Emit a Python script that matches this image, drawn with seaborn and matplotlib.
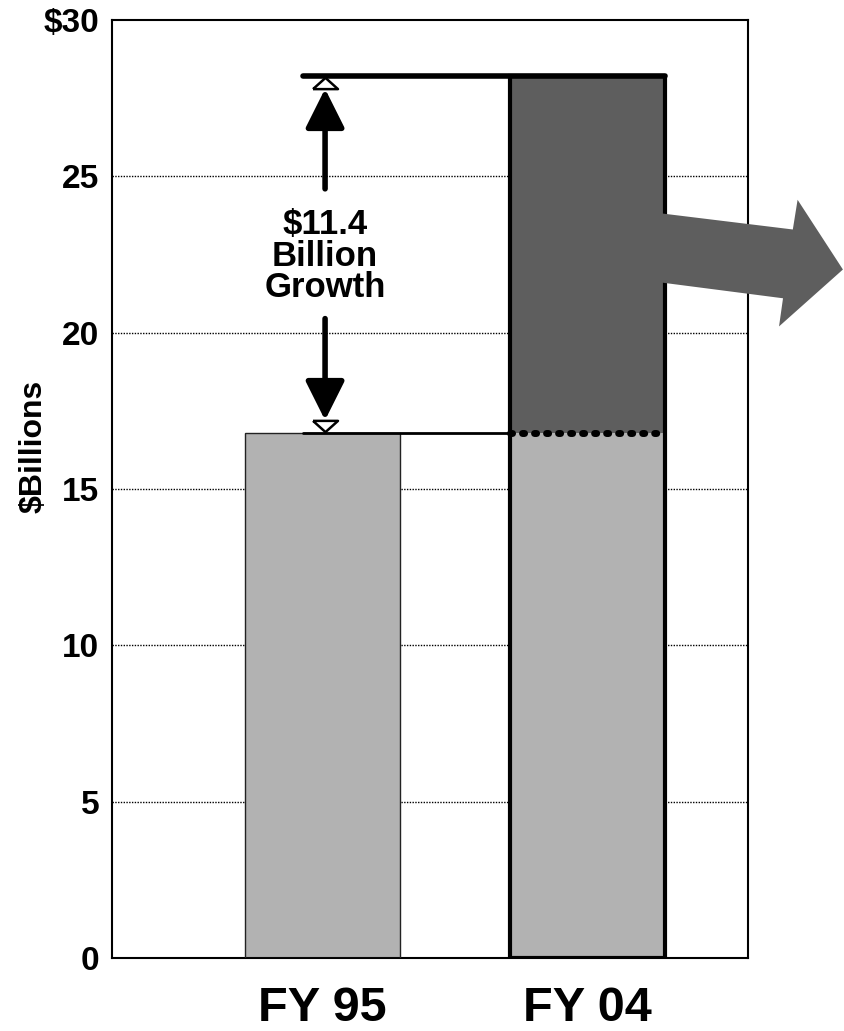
import numpy as np
import pandas as pd
import seaborn as sns
import matplotlib.pyplot as plt
from matplotlib.patches import Polygon, Rectangle

years = ['FY 95', 'FY 04']
base_vals = [16.8, 16.8]
growth_vals = [0.0, 11.4]
totals = [b + g for b, g in zip(base_vals, growth_vals)]
yticks = [0, 5, 10, 15, 20, 25, 30]
ytick_labels = ['0', '5', '10', '15', '20', '25', '$30']
growth_text = '$11.4\nBillion\nGrowth'

light = '#b2b2b2'
dark = '#5e5e5e'
bar_w = 0.585

sns.set_style('white')
plt.rcParams['font.family'] = ['Liberation Sans', 'DejaVu Sans']
plt.rcParams['font.weight'] = 'bold'
plt.rcParams['text.color'] = 'black'
plt.rcParams['axes.labelcolor'] = 'black'
plt.rcParams['xtick.color'] = 'black'
plt.rcParams['ytick.color'] = 'black'

fig = plt.figure(figsize=(8.44, 10.31), dpi=100)
ax = fig.add_axes([0.1327, 0.0708, 0.7536, 0.9098])

df = pd.DataFrame({'year': years, 'total': totals, 'base': base_vals})
sns.barplot(data=df, x='year', y='total', hue='year', palette=[light, dark],
            legend=False, width=bar_w, saturation=1, ax=ax, zorder=2)
sns.barplot(data=df, x='year', y='base', color=light, width=bar_w,
            saturation=1, ax=ax, zorder=2)

for p in ax.patches:
    p.set_edgecolor('none')

# outlines
p95 = ax.patches[0]
ax.add_patch(Rectangle((p95.get_x(), 0), p95.get_width(), base_vals[0],
                       fill=False, edgecolor='#222222', lw=1, zorder=3))
p04 = ax.patches[1]
ax.add_patch(Rectangle((p04.get_x(), 0), p04.get_width(), totals[1],
                       fill=False, edgecolor='black', lw=3, zorder=3))

# big arrow out of the growth section
arrow_pts = [(1.1, 24.0), (1.775, 23.30), (1.793, 24.25), (1.964, 22.02),
             (1.723, 20.20), (1.738, 21.10), (1.1, 21.80)]
ax.add_patch(Polygon(arrow_pts, closed=True, facecolor=dark, edgecolor='none',
                     zorder=4, clip_on=False))

# reference lines
x_left = -0.074
x04_l = 1 - bar_w / 2
x04_r = 1 + bar_w / 2
ax.plot([x_left, x04_r], [totals[1], totals[1]], color='black', lw=4,
        solid_capstyle='round', zorder=5)
ax.plot([x_left, x04_l], [base_vals[0], base_vals[0]], color='black', lw=2, zorder=5)
ax.plot([x04_l, x04_r], [base_vals[0], base_vals[0]], color='black', lw=5,
        linestyle=(0, (0.3, 1.43)), dash_capstyle='round', zorder=5)

# growth annotation
xa = 0.01
ax.text(xa, 22.45, growth_text, ha='center', va='center', fontsize=25,
        fontweight='bold', linespacing=0.95, zorder=6)
tri_up = [(-1, -0.45), (1, -0.45), (0, 0.45), (-1, -0.45)]
tri_dn = [(-1, 0.45), (1, 0.45), (0, -0.45), (-1, 0.45)]
head = '-|>,head_length=1.2,head_width=0.6'
ax.annotate('', xy=(xa, totals[1] - 0.4), xytext=(xa, 24.6),
            arrowprops=dict(arrowstyle=head, lw=4, color='black',
                            mutation_scale=20, shrinkA=0, shrinkB=0), zorder=6)
ax.plot([xa], [totals[1] - 0.22], marker=tri_up, ms=18, mfc='white',
        mec='black', mew=1.8, zorder=6)
ax.annotate('', xy=(xa, base_vals[0] + 0.4), xytext=(xa, 20.45),
            arrowprops=dict(arrowstyle=head, lw=4, color='black',
                            mutation_scale=20, shrinkA=0, shrinkB=0), zorder=6)
ax.plot([xa], [base_vals[0] + 0.22], marker=tri_dn, ms=18, mfc='white',
        mec='black', mew=1.8, zorder=6)

ax.set_xlim(-0.794, 1.606)
ax.set_ylim(0, 30)
ax.set_yticks(yticks)
ax.set_yticklabels(ytick_labels, fontsize=24, fontweight='bold')
ax.set_xticks([0, 1])
ax.set_xticklabels(years, fontsize=35, fontweight='bold')
ax.tick_params(axis='both', length=0)
ax.tick_params(axis='y', pad=9)
ax.tick_params(axis='x', pad=20)
ax.set_xlabel('')
ax.set_ylabel('$Billions', fontsize=23, fontweight='bold')
ax.yaxis.set_label_coords(-0.1, 0.545)
for y in yticks[1:-1]:
    ax.axhline(y, color='black', lw=1, linestyle=(0, (1, 1)), zorder=1)
for s in ax.spines.values():
    s.set_color('black')
    s.set_linewidth(1.5)

fig.savefig('out.png', dpi=100)
